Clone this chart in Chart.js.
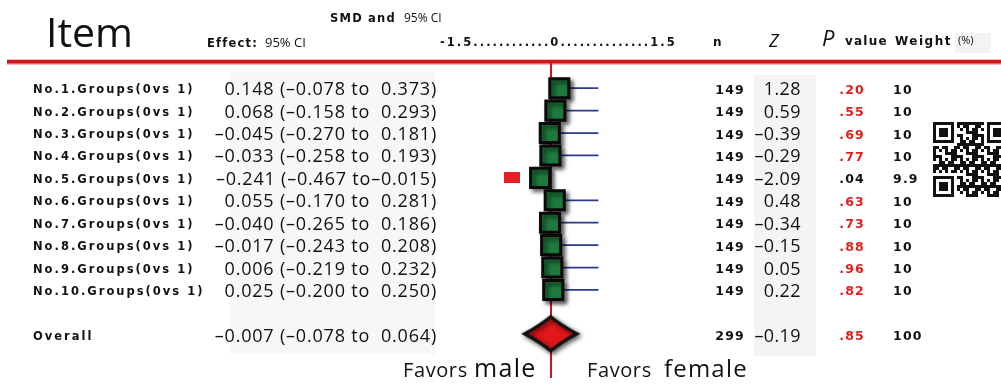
<!DOCTYPE html>
<html>
<head>
<meta charset="utf-8">
<script src="https://cdn.jsdelivr.net/npm/chart.js@4.4.1/dist/chart.umd.min.js"></script>
<style>
  html, body { margin: 0; padding: 0; background: #fff; }
  canvas { display: block; }
</style>
</head>
<body>
<canvas id="forest" width="1001" height="385"></canvas>
<script>
// ========================
// DATA
// ========================

const groupLabels = [
  "No.1.Groups(0vs 1)", "No.2.Groups(0vs 1)", "No.3.Groups(0vs 1)",
  "No.4.Groups(0vs 1)", "No.5.Groups(0vs 1)", "No.6.Groups(0vs 1)",
  "No.7.Groups(0vs 1)", "No.8.Groups(0vs 1)", "No.9.Groups(0vs 1)",
  "No.10.Groups(0vs 1)"
];
const smd = [0.148, 0.068, -0.045, -0.033, -0.241, 0.055, -0.040, -0.017, 0.006, 0.025];
const ciLower = [-0.078, -0.158, -0.270, -0.258, -0.467, -0.170, -0.265, -0.243, -0.219, -0.200];
const ciUpper = [0.373, 0.293, 0.181, 0.193, -0.015, 0.281, 0.186, 0.208, 0.232, 0.250];
const sampleN = [149, 149, 149, 149, 149, 149, 149, 149, 149, 149];
const zValues = [1.28, 0.59, -0.39, -0.29, -2.09, 0.48, -0.34, -0.15, 0.05, 0.22];
const pValues = [0.20, 0.55, 0.69, 0.77, 0.04, 0.63, 0.73, 0.88, 0.96, 0.82];
const weights = ["10", "10", "10", "10", "9.9", "10", "10", "10", "10", "10"];

const overallLabel = "Overall";
const overallSmd = -0.007;
const overallLower = -0.078;
const overallUpper = 0.064;
const overallN = 299;
const overallZ = -0.19;
const overallP = 0.85;
const overallWeight = "100";

const overallRow = 11;      // one empty row between the groups and the overall line
const whiskerEnd = 0.94;    // the blue lines all run out to the same point
const sigMarkX = -0.82;     // red flag drawn left of significant rows

// ========================
// HELPERS
// ========================

const RED = "#d0141c";
const GREEN = "#1f7a3d";
const NAVY = "#2b3a8f";
const SMALL_BOLD = 'bold 11.5px "DejaVu Sans"';
const COL_BOLD = 'bold 12.5px "DejaVu Sans"';
const HEAD_BOLD = 'bold 12px "DejaVu Sans"';
const NUM_FONT = '18px "Open Sans"';

function dash(v, digits) {
  return (v < 0 ? "\u2013" : "") + Math.abs(v).toFixed(digits);
}

function effectText(est, lo, hi) {
  return `${dash(est, 3)} (${dash(lo, 3)} to${hi < 0 ? "" : "  "}${dash(hi, 3)})`;
}

function pText(p) {
  return p.toFixed(2).replace(/^0/, "");
}

function txt(ctx, str, x, y, font, color, align, spacing) {
  ctx.save();
  ctx.font = font;
  ctx.fillStyle = color || "#111";
  ctx.textAlign = align || "left";
  ctx.textBaseline = "alphabetic";
  ctx.letterSpacing = (spacing || 0) + "px";
  ctx.fillText(str, x, y);
  ctx.restore();
}

// pre-drawn marks used as point styles
function makeDiamond() {
  const c = document.createElement("canvas");
  c.width = 68; c.height = 48;
  const g = c.getContext("2d");
  const cx = 33, cy = 23;
  g.shadowColor = "rgba(0,0,0,0.6)";
  g.shadowBlur = 5;
  g.shadowOffsetX = 2;
  g.shadowOffsetY = 2;
  g.beginPath();
  g.moveTo(cx - 26, cy);
  g.quadraticCurveTo(cx - 11, cy - 8, cx, cy - 17);
  g.quadraticCurveTo(cx + 11, cy - 8, cx + 26, cy);
  g.quadraticCurveTo(cx + 11, cy + 8, cx, cy + 17);
  g.quadraticCurveTo(cx - 11, cy + 8, cx - 26, cy);
  g.closePath();
  g.fillStyle = "#e3161b";
  g.fill();
  g.lineWidth = 3.5;
  g.strokeStyle = "#111";
  g.stroke();
  return c;
}

function makeFlag() {
  const c = document.createElement("canvas");
  c.width = 16; c.height = 11;
  const g = c.getContext("2d");
  g.fillStyle = "#e31e24";
  g.fillRect(0, 0, 16, 11);
  return c;
}

function drawQr(ctx, x0, y0, m) {
  const N = 25;
  const finder = (i, j, ox, oy) => {
    const a = i - ox, b = j - oy;
    if (a < 0 || b < 0 || a > 6 || b > 6) return null;
    if (a === 0 || b === 0 || a === 6 || b === 6) return true;
    if (a >= 2 && a <= 4 && b >= 2 && b <= 4) return true;
    return false;
  };
  ctx.save();
  ctx.fillStyle = "#111";
  for (let i = 0; i < N; i++) {
    for (let j = 0; j < N; j++) {
      let on = finder(i, j, 0, 0);
      if (on === null) on = finder(i, j, N - 7, 0);
      if (on === null) on = finder(i, j, 0, N - 7);
      if (on === null) {
        const nearFinder = (i < 8 && j < 8) || (i > N - 9 && j < 8) || (i < 8 && j > N - 9);
        on = !nearFinder && ((i * i * 7 + j * 13 + i * j * 5 + j * j * 3) % 7 < 4);
      }
      if (on) ctx.fillRect(x0 + i * m, y0 + j * m, m, m);
    }
  }
  ctx.restore();
}

// ========================
// TABLE + DECORATION PLUGIN
// ========================

const forestTable = {
  id: "forestTable",
  beforeDraw(chart) {
    const ctx = chart.ctx;
    const y = chart.scales.y;
    ctx.save();
    // faint column panels
    ctx.fillStyle = "#f7f7f7";
    ctx.fillRect(230, 72, 205, 282);
    ctx.fillStyle = "#f4f4f4";
    ctx.fillRect(754, 75, 62, 281);
    ctx.fillStyle = "#f3f3f3";
    ctx.fillRect(955, 33, 36, 20);
    ctx.restore();

    // header
    txt(ctx, "Item", 46, 47, '41px "Open Sans"', "#111");
    txt(ctx, "Effect:", 207, 47, SMALL_BOLD, "#111", "left", 1.2);
    txt(ctx, "95% CI", 265, 47, '13px "Open Sans"', "#111");
    txt(ctx, "SMD and", 330, 22, SMALL_BOLD, "#111", "left", 1.2);
    txt(ctx, "95% CI", 404, 22, '12px "Open Sans"', "#111");
    txt(ctx, "-1.5............0..............1.5", 440, 46, SMALL_BOLD, "#111", "left", 2.05);
    txt(ctx, "n", 713, 46, HEAD_BOLD, "#111");
    txt(ctx, "Z", 769, 47, 'italic 18px "Open Sans"', "#111");
    txt(ctx, "P", 822, 46, 'italic 22px "Open Sans"', "#111");
    txt(ctx, "value", 845, 45, HEAD_BOLD, "#111", "left", 1.2);
    txt(ctx, "Weight", 895, 45, HEAD_BOLD, "#111", "left", 1.5);
    txt(ctx, "(%)", 958, 44, '11px "Open Sans"', "#111");

    // red rule under header
    ctx.save();
    ctx.fillStyle = "#f1b9bb";
    ctx.fillRect(7, 59, 994, 6);
    ctx.fillStyle = RED;
    ctx.fillRect(7, 60, 994, 3.5);
    ctx.restore();

    // rows of the table
    const rows = groupLabels.map((label, i) => ({
      row: i, label, eff: effectText(smd[i], ciLower[i], ciUpper[i]),
      n: String(sampleN[i]), z: dash(zValues[i], 2), p: pValues[i], w: weights[i]
    }));
    rows.push({
      row: overallRow, label: overallLabel,
      eff: effectText(overallSmd, overallLower, overallUpper),
      n: String(overallN), z: dash(overallZ, 2), p: overallP, w: overallWeight
    });
    rows.forEach(r => {
      const cy = y.getPixelForValue(r.row) + 1;
      txt(ctx, r.label, 33, cy + 4, SMALL_BOLD, "#111", "left", 2.0);
      txt(ctx, r.eff, 437, cy + 6, NUM_FONT, "#111", "right", 0.8);
      txt(ctx, r.n, 745, cy + 4.5, COL_BOLD, "#111", "right", 1.2);
      txt(ctx, r.z, 801, cy + 6, NUM_FONT, "#111", "right", 0.4);
      txt(ctx, pText(r.p), 865, cy + 4.5, COL_BOLD, r.p < 0.05 ? "#111" : "#e0201b", "right", 1.2);
      txt(ctx, r.w, 893, cy + 4.5, COL_BOLD, "#111", "left", 1.2);
    });

    drawQr(ctx, 933, 122, 3);

    // footer
    txt(ctx, "Favors", 403, 377, '20px "Open Sans"', "#111", "left", 0.6);
    txt(ctx, "male", 474, 377, '25px "Open Sans"', "#111", "left", 1.3);
    txt(ctx, "Favors", 587, 377, '20px "Open Sans"', "#111", "left", 0.6);
    txt(ctx, "female", 664, 377, '24px "Open Sans"', "#111", "left", 1.2);
  },
  beforeDatasetsDraw(chart) {
    const ctx = chart.ctx;
    const x = chart.scales.x;
    const y = chart.scales.y;
    const x0 = x.getPixelForValue(0);
    ctx.save();
    // line of no effect
    ctx.strokeStyle = RED;
    ctx.lineWidth = 2;
    ctx.beginPath();
    ctx.moveTo(x0 - 1, 62);
    ctx.lineTo(x0 - 1, 378);
    ctx.stroke();
    // blue whiskers
    ctx.strokeStyle = NAVY;
    ctx.lineWidth = 1.8;
    smd.forEach((v, i) => {
      if (pValues[i] < 0.05) return;
      const cy = y.getPixelForValue(i);
      ctx.beginPath();
      ctx.moveTo(x.getPixelForValue(v), cy);
      ctx.lineTo(x.getPixelForValue(whiskerEnd), cy);
      ctx.stroke();
    });
    ctx.restore();
  },
  beforeDatasetDraw(chart, args) {
    if (args.index !== 0) return;
    const ctx = chart.ctx;
    ctx.save();
    ctx.shadowColor = "rgba(0,0,0,0.6)";
    ctx.shadowBlur = 4;
    ctx.shadowOffsetX = 3;
    ctx.shadowOffsetY = 3;
  },
  afterDatasetDraw(chart, args) {
    if (args.index !== 0) return;
    chart.ctx.restore();
  }
};

// ========================
// CHART
// ========================

const sigRows = smd.map((v, i) => i).filter(i => pValues[i] < 0.05);

new Chart(document.getElementById("forest"), {
  type: "scatter",
  data: {
    datasets: [
      {
        label: "SMD",
        data: smd.map((v, i) => ({ x: v, y: i })),
        pointStyle: "rect",
        pointRadius: 13.5,
        backgroundColor: GREEN,
        borderColor: "#0a0a0a",
        borderWidth: 3,
        clip: false
      },
      {
        label: "significant",
        data: sigRows.map(i => ({ x: sigMarkX, y: i })),
        pointStyle: makeFlag(),
        clip: false
      },
      {
        label: "Overall",
        data: [{ x: overallSmd, y: overallRow }],
        pointStyle: makeDiamond(),
        clip: false
      }
    ]
  },
  options: {
    responsive: false,
    animation: false,
    devicePixelRatio: 1,
    layout: { padding: { left: 478, right: 375, top: 77, bottom: 39 } },
    scales: {
      x: { type: "linear", min: -1.5, max: 1.5, display: false },
      y: { type: "linear", min: -0.5, max: 11.5, reverse: true, display: false }
    },
    plugins: {
      legend: { display: false },
      tooltip: { enabled: false }
    }
  },
  plugins: [forestTable]
});
</script>
</body>
</html>
